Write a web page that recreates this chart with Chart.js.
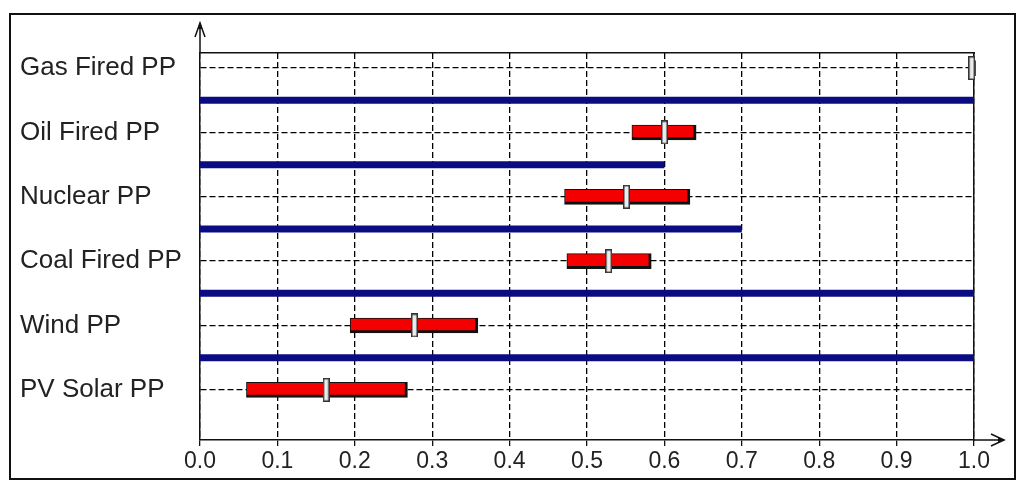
<!DOCTYPE html>
<html>
<head>
<meta charset="utf-8">
<script src="https://cdn.jsdelivr.net/npm/chart.js@4.4.1/dist/chart.umd.min.js"></script>
<style>
    html, body { margin: 0; padding: 0; background: #fff; }
    #wrap { position: relative; width: 1024px; height: 492px; }
    #frame { position: absolute; left: 9px; top: 13px; width: 1003px; height: 463px; border: 2px solid #111; }
    #chart { position: absolute; left: 0; top: 0; }
</style>
</head>
<body>
<div id="wrap">
    <div id="frame"></div>
    <canvas id="chart" width="1024" height="492"></canvas>
</div>
<script>
// Data, top row first
const categories = ['Gas Fired PP', 'Oil Fired PP', 'Nuclear PP', 'Coal Fired PP', 'Wind PP', 'PV Solar PP'];
const lowValues = [0.993, 0.558, 0.471, 0.474, 0.194, 0.060];
const highValues = [1.002, 0.641, 0.633, 0.583, 0.359, 0.268];
const midValues = [0.997, 0.600, 0.551, 0.528, 0.277, 0.163];
// blue separators between neighbouring rows
const separatorRows = [0.5, 1.5, 2.5, 3.5, 4.5];
const separatorEnds = [1.0, 0.6, 0.7, 1.0, 1.0];
const xTickValues = [0, 0.1, 0.2, 0.3, 0.4, 0.5, 0.6, 0.7, 0.8, 0.9, 1.0];

const FONT = "'Liberation Sans', Arial, sans-serif";

// marker glyph: light slim rectangle with dark outline
function makeMarker() {
    const c = document.createElement('canvas');
    c.width = 7;
    c.height = 24;
    const g = c.getContext('2d');
    g.fillStyle = '#333';
    g.fillRect(0, 0, 7, 24);
    g.fillStyle = '#ececec';
    g.fillRect(1.5, 1.5, 4, 21);
    return c;
}

const barData = categories.map((c, i) => ({ x: [lowValues[i], highValues[i]], y: i }));
const markerData = categories.map((c, i) => ({ x: midValues[i], y: i }));
const separatorSets = separatorRows.map((row, i) => ({
    type: 'line',
    data: [{ x: 0, y: row }, { x: separatorEnds[i], y: row }],
    borderColor: '#0c0c82',
    borderWidth: 7,
    borderCapStyle: 'butt',
    pointRadius: 0,
    fill: false,
    order: 3
}));

// axis arrows past the plot edges
const arrowPlugin = {
    id: 'arrows',
    afterDraw(chart) {
        const { ctx, chartArea: a } = chart;
        ctx.save();
        ctx.strokeStyle = '#111';
        ctx.fillStyle = '#111';
        ctx.lineWidth = 1.5;
        // y axis up
        ctx.beginPath();
        ctx.moveTo(a.left, a.top);
        ctx.lineTo(a.left, a.top - 30);
        ctx.moveTo(a.left - 5, a.top - 16);
        ctx.lineTo(a.left, a.top - 30);
        ctx.lineTo(a.left + 5, a.top - 16);
        ctx.stroke();
        ctx.beginPath();
        ctx.moveTo(a.left, a.top - 31);
        ctx.lineTo(a.left - 2.5, a.top - 24);
        ctx.lineTo(a.left + 2.5, a.top - 24);
        ctx.closePath();
        ctx.fill();
        // x axis right
        ctx.beginPath();
        ctx.moveTo(a.right, a.bottom);
        ctx.lineTo(a.right + 30, a.bottom);
        ctx.moveTo(a.right + 17, a.bottom - 6);
        ctx.lineTo(a.right + 30, a.bottom);
        ctx.lineTo(a.right + 17, a.bottom + 6);
        ctx.stroke();
        ctx.beginPath();
        ctx.moveTo(a.right + 31, a.bottom);
        ctx.lineTo(a.right + 24, a.bottom - 2.5);
        ctx.lineTo(a.right + 24, a.bottom + 2.5);
        ctx.closePath();
        ctx.fill();
        ctx.restore();
    }
};

new Chart(document.getElementById('chart'), {
    type: 'bar',
    data: {
        datasets: [
            {
                type: 'scatter',
                data: markerData,
                pointStyle: makeMarker(),
                clip: false,
                order: 0
            },
            {
                type: 'bar',
                indexAxis: 'y',
                data: barData,
                backgroundColor: '#f40000',
                borderColor: '#111',
                borderWidth: { top: 1, left: 1, right: 3, bottom: 3 },
                borderSkipped: false,
                barThickness: 15,
                clip: false,
                order: 1
            },
            ...separatorSets
        ]
    },
    options: {
        responsive: false,
        animation: false,
        layout: { padding: { left: 20 } },
        plugins: {
            legend: { display: false },
            tooltip: { enabled: false }
        },
        scales: {
            x: {
                type: 'linear',
                position: 'bottom',
                offset: false,
                min: 0,
                max: 1,
                afterBuildTicks: s => { s.ticks = xTickValues.map(v => ({ value: v })); },
                afterFit: s => { s.height = 52; },
                ticks: {
                    callback: v => v.toFixed(1),
                    color: '#222',
                    font: { family: FONT, size: 23 },
                    padding: 2,
                    maxRotation: 0
                },
                grid: {
                    offset: false,
                    color: '#000',
                    lineWidth: 1.3,
                    tickLength: 6,
                    tickColor: '#111',
                    tickBorderDash: []
                },
                border: { color: '#111', width: 1.5, dash: [6, 3] }
            },
            x2: {
                type: 'linear',
                position: 'top',
                offset: false,
                afterFit: s => { s.height = 53; },
                ticks: { display: false },
                grid: { display: false },
                border: { color: '#111', width: 1.5 }
            },
            y: {
                type: 'linear',
                position: 'left',
                offset: false,
                reverse: true,
                min: -0.235,
                max: 5.78,
                afterBuildTicks: s => { s.ticks = categories.map((c, i) => ({ value: i })); },
                afterFit: s => { s.width = 180; },
                ticks: {
                    callback: v => categories[v],
                    crossAlign: 'far',
                    color: '#222',
                    font: { family: FONT, size: 26 }
                },
                grid: {
                    offset: false,
                    color: '#000',
                    lineWidth: 1.3,
                    drawTicks: false
                },
                border: { color: '#111', width: 1.5, dash: [6, 3] }
            },
            y2: {
                type: 'linear',
                position: 'right',
                offset: false,
                afterFit: s => { s.width = 50; },
                ticks: { display: false },
                grid: { display: false },
                border: { color: '#111', width: 1.5 }
            }
        }
    },
    plugins: [arrowPlugin]
});
</script>
</body>
</html>
